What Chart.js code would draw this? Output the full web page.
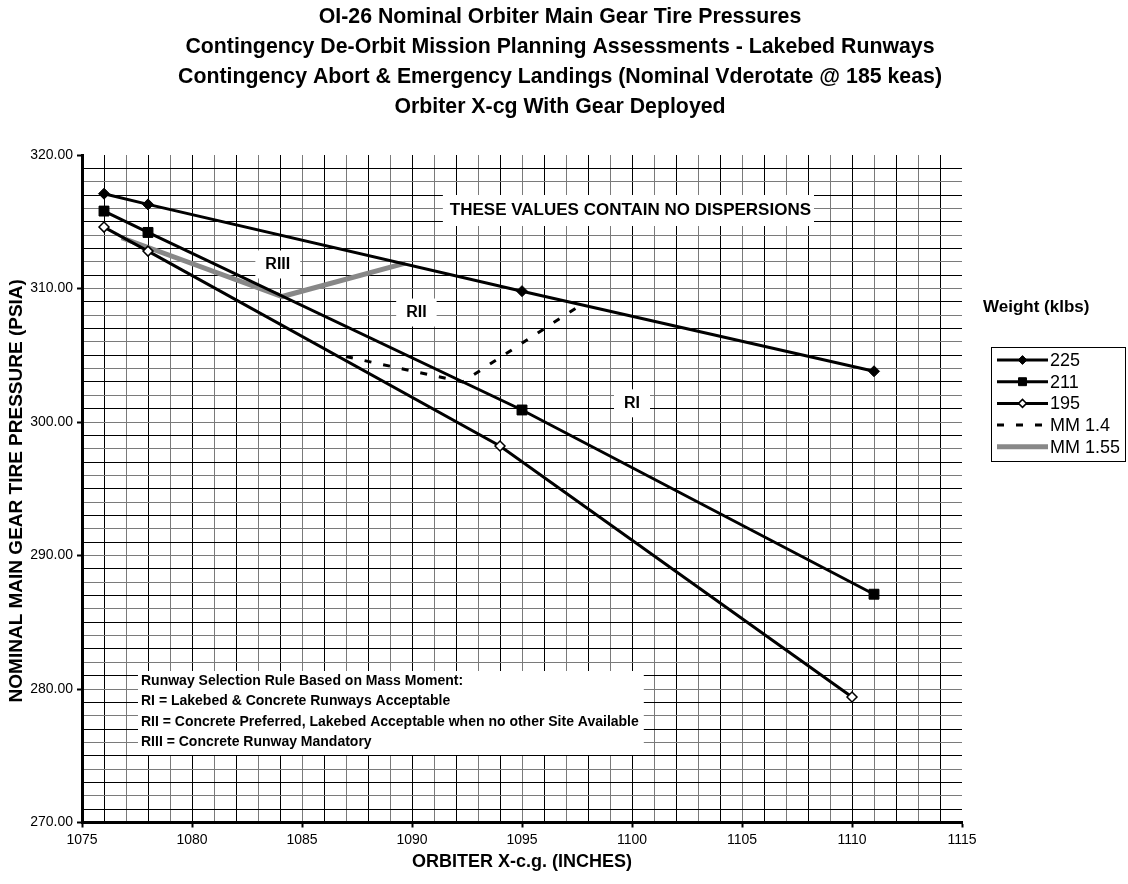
<!DOCTYPE html>
<html><head><meta charset="utf-8">
<script src="https://cdn.jsdelivr.net/npm/chart.js@4.4.0/dist/chart.umd.min.js"></script>
<style>html,body{margin:0;padding:0;background:#fff;}#wrap{position:relative;width:1128px;height:884px;}</style>
</head><body><div id="wrap"><canvas id="c" width="1128" height="884"></canvas></div>
<script>
const FONT = "'Liberation Sans', Arial, Helvetica, sans-serif";

const titleLines = [
  "OI-26 Nominal Orbiter Main Gear Tire Pressures",
  "Contingency De-Orbit Mission Planning Assessments - Lakebed Runways",
  "Contingency Abort & Emergency Landings (Nominal Vderotate @ 185 keas)",
  "Orbiter X-cg With Gear Deployed"
];
const xAxisTitle = "ORBITER X-c.g. (INCHES)";
const yAxisTitle = "NOMINAL MAIN GEAR TIRE PRESSURE (PSIA)";
const legendTitle = "Weight (klbs)";
const seriesNames = ["225", "211", "195", "MM 1.4", "MM 1.55"];

const xRange = [1075, 1115];
const yRange = [270, 320];

const x225 = [1076, 1078, 1095, 1111];
const y225 = [317.1, 316.3, 309.8, 303.8];
const x211 = [1076, 1078, 1095, 1111];
const y211 = [315.8, 314.2, 300.9, 287.1];
const x195 = [1076, 1078, 1094, 1110];
const y195 = [314.6, 312.8, 298.2, 279.4];
const xMM14 = [1087, 1092.3, 1097.7];
const yMM14 = [304.9, 303.0, 308.8];
const xMM155 = [1076.8, 1084.1, 1089.7];
const yMM155 = [313.8, 309.4, 311.9];

const noteTop = "THESE VALUES CONTAIN NO DISPERSIONS";
const regionLabels = [
  {text: "RIII", x: 1083.9, y: 311.8},
  {text: "RII",  x: 1090.2, y: 308.2},
  {text: "RI",   x: 1100.0, y: 301.4}
];
const ruleLines = [
  "Runway Selection Rule Based on Mass Moment:",
  "RI = Lakebed & Concrete Runways Acceptable",
  "RII = Concrete Preferred, Lakebed Acceptable when no other Site Available",
  "RIII = Concrete Runway Mandatory"
];

function pts(xs, ys) { return xs.map((x, i) => ({x: x, y: ys[i]})); }

const datasets = [
  {label: seriesNames[0], data: pts(x225, y225), borderColor: '#000', borderWidth: 3,
   pointStyle: 'rectRot', pointRadius: 5.5, pointBackgroundColor: '#000', pointBorderColor: '#000', pointBorderWidth: 1},
  {label: seriesNames[1], data: pts(x211, y211), borderColor: '#000', borderWidth: 3,
   pointStyle: 'rect', pointRadius: 7, pointBackgroundColor: '#000', pointBorderColor: '#000', pointBorderWidth: 1},
  {label: seriesNames[2], data: pts(x195, y195), borderColor: '#000', borderWidth: 3,
   pointStyle: 'rectRot', pointRadius: 5, pointBackgroundColor: '#fff', pointBorderColor: '#000', pointBorderWidth: 1.5},
  {label: seriesNames[3], data: pts(xMM14, yMM14), borderColor: '#000', borderWidth: 3, borderDash: [7, 12],
   pointRadius: 0},
  {label: seriesNames[4], data: pts(xMM155, yMM155), borderColor: '#888', borderWidth: 5,
   pointRadius: 0}
];
datasets.forEach(d => { d.showLine = true; d.fill = false; d.tension = 0; d.pointHoverRadius = d.pointRadius; });

function boxText(ctx, text, cx, cy, font, padX, h) {
  ctx.font = font;
  const w = ctx.measureText(text).width;
  ctx.fillStyle = '#fff';
  ctx.fillRect(cx - w / 2 - padX, cy - h / 2, w + 2 * padX, h);
  ctx.fillStyle = '#000';
  ctx.textAlign = 'center';
  ctx.textBaseline = 'middle';
  ctx.fillText(text, cx, cy);
}

const decor = {
  id: 'decor',
  beforeDatasetsDraw(chart) {
    const ctx = chart.ctx;
    const xs = chart.scales.x, ys = chart.scales.y;
    ctx.save();
    // top note
    ctx.font = "bold 17px " + FONT;
    const nw = ctx.measureText(noteTop).width;
    const nRight = 811, nY = 210;
    ctx.fillStyle = '#fff';
    ctx.fillRect(nRight - nw - 7, nY - 15, nw + 10, 31);
    ctx.fillStyle = '#000';
    ctx.textAlign = 'right'; ctx.textBaseline = 'middle';
    ctx.fillText(noteTop, nRight, nY);
    // region labels
    regionLabels.forEach(r => {
      boxText(ctx, r.text, xs.getPixelForValue(r.x), ys.getPixelForValue(r.y), "bold 16px " + FONT, 10, 28);
    });
    // rule box
    ctx.font = "bold 14px " + FONT;
    let mw = 0;
    ruleLines.forEach(t => { mw = Math.max(mw, ctx.measureText(t).width); });
    const bx = 138, by = 671, lh = 20.4;
    ctx.fillStyle = '#fff';
    ctx.fillRect(bx, by, mw + 8, 84);
    ctx.fillStyle = '#000';
    ctx.textAlign = 'left'; ctx.textBaseline = 'middle';
    ruleLines.forEach((t, i) => ctx.fillText(t, bx + 3, 681 + i * lh));
    ctx.restore();
  },
  afterDraw(chart) {
    const ctx = chart.ctx;
    const ca = chart.chartArea;
    ctx.save();
    ctx.fillStyle = '#000';
    ctx.textAlign = 'center'; ctx.textBaseline = 'middle';
    ctx.font = "bold 21.3px " + FONT;
    titleLines.forEach((t, i) => ctx.fillText(t, 560, 17 + i * 30));
    // axis titles
    ctx.font = "bold 18px " + FONT;
    ctx.fillText(xAxisTitle, (ca.left + ca.right) / 2, 862);
    ctx.save();
    ctx.translate(17, (ca.top + ca.bottom) / 2 + 2);
    ctx.rotate(-Math.PI / 2);
    ctx.font = "bold 19px " + FONT;
    ctx.fillText(yAxisTitle, 0, 0);
    ctx.restore();
    // legend
    ctx.textAlign = 'left';
    ctx.font = "bold 17px " + FONT;
    ctx.fillText(legendTitle, 983, 307);
    const lx = 991.5, ly = 347.5, lw = 134, lhgt = 114;
    ctx.fillStyle = '#fff';
    ctx.fillRect(lx, ly, lw, lhgt);
    ctx.strokeStyle = '#000'; ctx.lineWidth = 1;
    ctx.strokeRect(lx, ly, lw, lhgt);
    chart.data.datasets.forEach((d, i) => {
      const y = 360 + i * 21.7;
      ctx.save();
      ctx.strokeStyle = d.borderColor; ctx.lineWidth = d.borderWidth;
      ctx.setLineDash(d.borderDash || []);
      ctx.beginPath(); ctx.moveTo(997, y); ctx.lineTo(1048, y); ctx.stroke();
      ctx.setLineDash([]);
      if (d.pointRadius > 0) {
        ctx.fillStyle = d.pointBackgroundColor; ctx.strokeStyle = d.pointBorderColor; ctx.lineWidth = d.pointBorderWidth;
        Chart.helpers.drawPoint(ctx, {pointStyle: d.pointStyle, radius: d.pointRadius * 0.8, rotation: 0, borderWidth: d.pointBorderWidth}, 1022.5, y);
      }
      ctx.restore();
      ctx.fillStyle = '#000';
      ctx.font = "18px " + FONT;
      ctx.textBaseline = 'middle';
      ctx.fillText(d.label, 1050, y + 1);
    });
    ctx.restore();
  }
};

const gridColX = c => {
  const v = c.tick.value;
  if (v >= xRange[1]) return 'rgba(0,0,0,0)';
  return (Math.round(v) % 2 === 0) ? '#000' : '#7a7a7a';
};
const gridColY = c => {
  const v = c.tick.value;
  if (v >= yRange[1]) return 'rgba(0,0,0,0)';
  return (Math.round(v) % 2 !== 0) ? '#000' : '#7a7a7a';
};

new Chart(document.getElementById('c'), {
  type: 'scatter',
  data: {datasets: datasets},
  options: {
    responsive: false, animation: false, devicePixelRatio: 1,
    layout: {padding: {top: 155, right: 166, left: 0, bottom: 0}},
    plugins: {legend: {display: false}, title: {display: false}, tooltip: {enabled: false}},
    scales: {
      x: {
        type: 'linear', min: xRange[0], max: xRange[1],
        afterFit: s => { s.height = 61.5; },
        ticks: {stepSize: 1, autoSkip: false, maxRotation: 0, color: '#000', padding: 4,
                font: {family: FONT, size: 14},
                callback: v => (Math.round(v) % 5 === 0 ? String(Math.round(v)) : '')},
        grid: {color: gridColX, lineWidth: 1, tickLength: 5, tickWidth: 2,
               tickColor: c => (Math.round(c.tick.value) % 5 === 0 ? '#000' : 'rgba(0,0,0,0)')},
        border: {display: true, color: '#000', width: 3}
      },
      y: {
        type: 'linear', min: yRange[0], max: yRange[1],
        afterFit: s => { s.width = 82; },
        ticks: {stepSize: 1, autoSkip: false, color: '#000', padding: 4,
                font: {family: FONT, size: 14},
                callback: v => (Math.round(v) % 10 === 0 ? Number(v).toFixed(2) : '')},
        grid: {color: gridColY, lineWidth: 1, tickLength: 5, tickWidth: 2,
               tickColor: c => (Math.round(c.tick.value) % 10 === 0 ? '#000' : 'rgba(0,0,0,0)')},
        border: {display: true, color: '#000', width: 3}
      }
    }
  },
  plugins: [decor]
});
</script></body></html>
